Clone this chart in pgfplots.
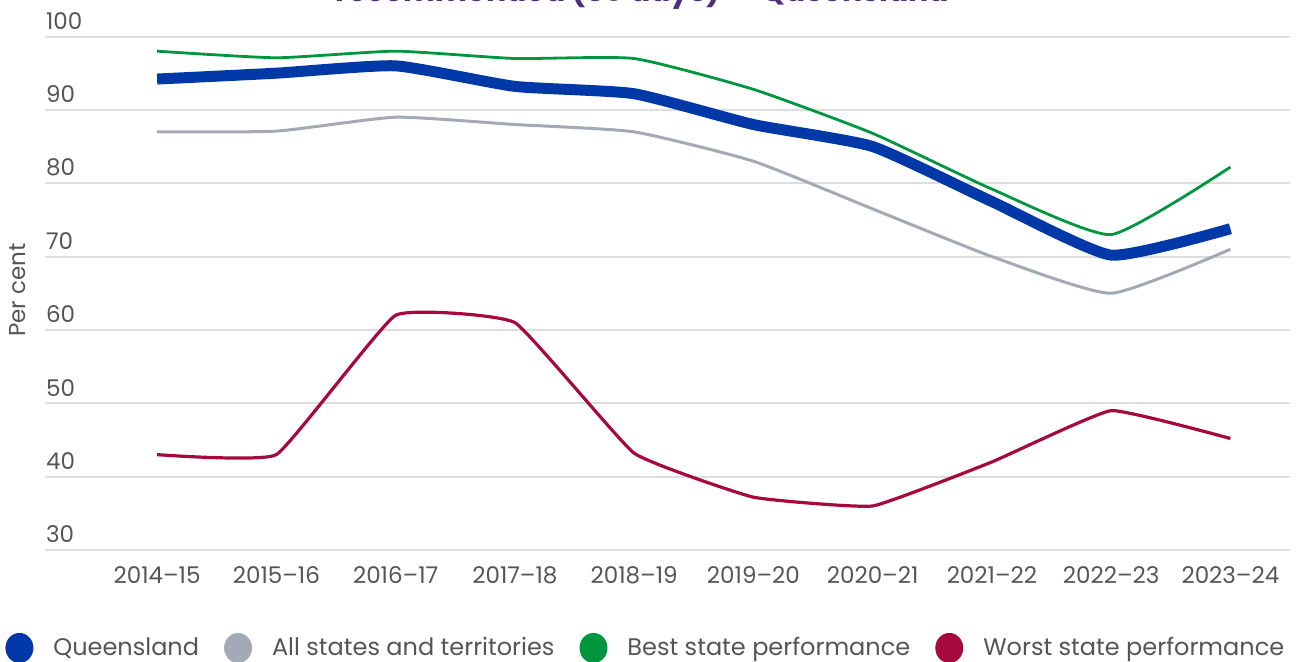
\documentclass[border=0pt]{standalone}
\usepackage{pgfplots}
\pgfplotsset{compat=1.18}
\usepackage{fontspec}
\setmainfont{Poppins}
\definecolor{qblue}{HTML}{0038A8}
\definecolor{allgray}{HTML}{A3AAB6}
\definecolor{bestgreen}{HTML}{00963F}
\definecolor{worstred}{HTML}{A6093D}
\definecolor{titlepurple}{HTML}{4F2D7F}
\definecolor{txt}{HTML}{555555}
\definecolor{gridc}{HTML}{DDDDDD}
\begin{document}
\begin{tikzpicture}
\useasboundingbox (0,0) rectangle (649.5pt,331pt);
\node[anchor=base west, inner sep=0pt, text=titlepurple, font=\fontsize{15}{17}\selectfont\bfseries] at (167.5pt,330pt) {recommended (30 days) — Queensland};
\begin{axis}[
  at={(22.5pt,56pt)}, anchor=south west,
  scale only axis, width=622.5pt, height=256.75pt,
  xmin=-0.94, xmax=9.5, ymin=30, ymax=100,
  axis line style={draw=none},
  ytick={30,40,...,100},
  xtick={0,...,9},
  xticklabels={2014–15,2015–16,2016–17,2017–18,2018–19,2019–20,2020–21,2021–22,2022–23,2023–24},
  ymajorgrids, grid style={gridc, line width=1pt},
  major tick length=0pt,
  /pgf/number format/assume math mode=true,
  ticklabel style={font=\fontsize{11.5}{13}\selectfont, text=txt},
  yticklabel style={anchor=south west, xshift=-3pt},
  xticklabel style={anchor=center, yshift=-12.75pt},
  ylabel={Per cent},
  ylabel style={at={(axis description cs:-0.0217,0.506)}, anchor=center, font=\fontsize{11.5}{13}\selectfont, text=txt},
  legend columns=4,
  legend cell align=left,
  legend style={at={(axis description cs:-0.0321,-0.1908)}, anchor=west, draw=none, fill=none, inner sep=0pt,
    font=\fontsize{12}{14}\selectfont, text=txt,
    /tikz/every odd column/.append style={column sep=8pt},
    /tikz/every even column/.append style={column sep=10.5pt}},
  legend image code/.code={\fill[#1,draw=none] (0pt,0pt) ellipse (7pt and 7.5pt);},
  clip=false,
]
\addplot[color=allgray, line width=1.5pt, smooth, tension=0.3, forget plot] coordinates {(0,87) (1,87.1) (2,89) (3,88) (4,87) (5,83) (6,76.5) (7,70) (8,65) (9,71)};
\addplot[color=bestgreen, line width=1.4pt, smooth, tension=0.3, forget plot] coordinates {(0,98) (1,97.1) (2,98) (3,97) (4,97) (5,92.8) (6,86.8) (7,79.2) (8,73) (9,82.2)};
\addplot[color=worstred, line width=1.6pt, smooth, tension=0.2, forget plot] coordinates {(0,43) (1,43) (2,62) (3,61) (4,43.2) (5,37.2) (6,36) (7,42) (8,49) (9,45.2)};
\addplot[color=qblue, line width=5.5pt, smooth, tension=0.3, forget plot] coordinates {(0,94.2) (1,95) (2,96) (3,93.2) (4,92.2) (5,88) (6,85) (7,77.5) (8,70.2) (9,73.8)};
\addlegendimage{color=qblue}\addlegendentry{Queensland}
\addlegendimage{color=allgray}\addlegendentry{All states and territories}
\addlegendimage{color=bestgreen}\addlegendentry{Best state performance}
\addlegendimage{color=worstred}\addlegendentry{Worst state performance}
\end{axis}
\end{tikzpicture}
\end{document}
